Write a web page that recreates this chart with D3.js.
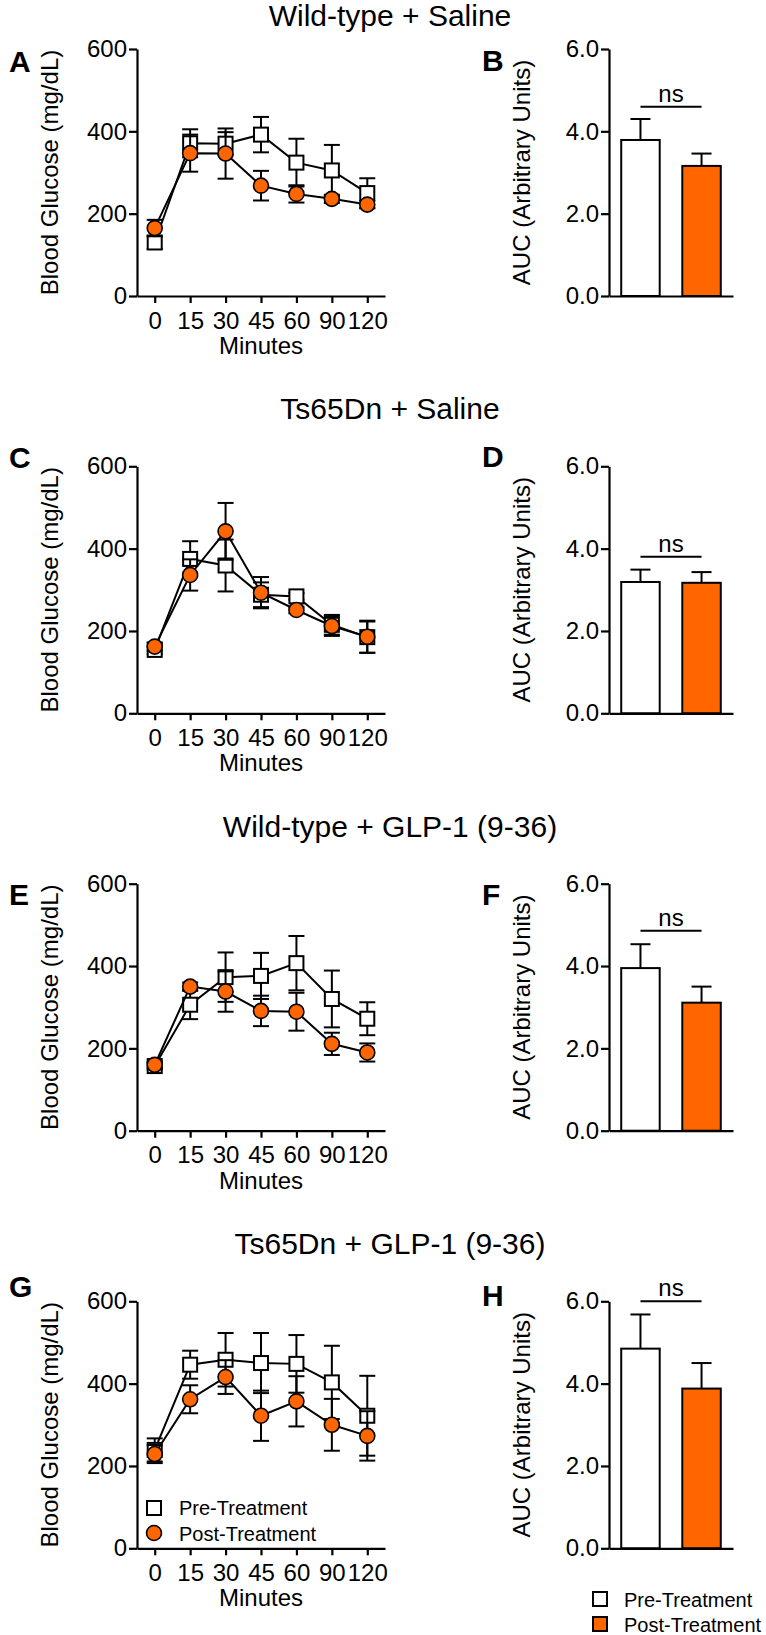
<!DOCTYPE html>
<html><head><meta charset="utf-8">
<script src="https://cdn.jsdelivr.net/npm/d3@7"></script>
<style>
body{margin:0;background:#fff;}
svg text{font-family:"Liberation Sans",Arial,Helvetica,sans-serif;fill:#000;}
</style></head><body>
<svg id="chart" width="766" height="1635"></svg>
<script>
// ---------- data ----------
const minutes = ["0","15","30","45","60","90","120"];
const panelTitles = ["Wild-type + Saline","Ts65Dn + Saline","Wild-type + GLP-1 (9-36)","Ts65Dn + GLP-1 (9-36)"];
const lineLetters = ["A","C","E","G"];
const barLetters = ["B","D","F","H"];
const seriesNames = ["Pre-Treatment","Post-Treatment"];
const glucoseTicks = [0,200,400,600];
const aucTicks = [0,2,4,6];
const yLineTitle = "Blood Glucose (mg/dL)";
const yBarTitle = "AUC (Arbitrary Units)";
const xLineTitle = "Minutes";

// A: Wild-type + Saline
const preA = [130, 371, 370, 392, 324, 305, 250];
const preAErr = [15, 34, 28, 43, 58, 62, 36];
const postA = [165, 347, 346, 268, 248, 236, 222];
const postAErr = [20, 45, 61, 36, 21, 10, 9];
// C: Ts65Dn + Saline
const preC = [154, 375, 359, 288, 284, 215, 185];
const preCErr = [10, 43, 63, 30, 8, 24, 38];
const postC = [162, 336, 442, 293, 251, 212, 186];
const postCErr = [10, 38, 69, 38, 8, 24, 39];
// E: Wild-type + GLP-1 (9-36)
const preE = [157, 306, 373, 376, 407, 320, 272];
const preEErr = [8, 35, 60, 56, 66, 69, 40];
const postE = [160, 350, 338, 291, 289, 211, 190];
const postEErr = [8, 10, 49, 37, 46, 27, 22];
// G: Ts65Dn + GLP-1 (9-36)
const preG = [239, 446, 458, 450, 448, 403, 322];
const preGErr = [28, 34, 65, 73, 70, 89, 97];
const postG = [229, 362, 416, 322, 357, 300, 273];
const postGErr = [22, 34, 41, 61, 61, 63, 60];

// AUC bars (Pre, Post)
const aucB = [3.79, 3.16], aucBErr = [0.51, 0.30], nsB = 4.6;
const aucD = [3.19, 3.17], aucDErr = [0.30, 0.26], nsD = 3.8;
const aucF = [3.95, 3.11], aucFErr = [0.58, 0.39], nsF = 4.86;
const aucH = [4.85, 3.88], aucHErr = [0.83, 0.62], nsH = 6.0;

// ---------- layout ----------
const ORANGE = "#ff6600";
const svg = d3.select("#chart");
const rowBase = [296, 713.3, 1130.7, 1548.3];
const plotH = 247;
const titleY = [26, 418.5, 836.7, 1254];
const leftLetterY = [72, 468, 905, 1297];
const rightLetterY = [71, 467, 905, 1306];

const lineSets = [
  [preA, preAErr, postA, postAErr],
  [preC, preCErr, postC, postCErr],
  [preE, preEErr, postE, postEErr],
  [preG, preGErr, postG, postGErr]
];
const barSets = [
  [aucB, aucBErr, nsB], [aucD, aucDErr, nsD], [aucF, aucFErr, nsF], [aucH, aucHErr, nsH]
];

function styleAxis(g, fs){
  g.attr("font-family", null).attr("font-size", null);
  g.selectAll("path,line").attr("stroke","#000").attr("stroke-width",2.2);
  g.selectAll("text").style("font-size", fs+"px");
}

rowBase.forEach((y0, i) => {
  // title
  svg.append("text").attr("x",390).attr("y",titleY[i]).attr("text-anchor","middle")
    .style("font-size","30px").text(panelTitles[i]);
  // letters
  svg.append("text").attr("x",9).attr("y",leftLetterY[i]).style("font-size","30px")
    .style("font-weight","bold").text(lineLetters[i]);
  svg.append("text").attr("x",482).attr("y",rightLetterY[i]).style("font-size","30px")
    .style("font-weight","bold").text(barLetters[i]);

  // ---------- line panel ----------
  const x = d3.scalePoint().domain(minutes).range([137,385]).padding(0.5);
  const y = d3.scaleLinear().domain([0,600]).range([y0, y0-plotH]);
  const gy = svg.append("g").attr("transform","translate(137,0)")
    .call(d3.axisLeft(y).tickValues(glucoseTicks).tickSize(8).tickPadding(2).tickSizeOuter(0));
  styleAxis(gy, 24);
  const gx = svg.append("g").attr("transform",`translate(0,${y0})`)
    .call(d3.axisBottom(x).tickSize(7).tickPadding(8.5).tickSizeOuter(0));
  styleAxis(gx, 24);
  svg.append("text").attr("x",261).attr("y",y0+58).attr("text-anchor","middle")
    .style("font-size","24px").text(xLineTitle);
  svg.append("text").attr("transform",`translate(58,${y0-plotH/2}) rotate(-90)`)
    .attr("text-anchor","middle").style("font-size","24px").text(yLineTitle);

  const [pre, preErr, post, postErr] = lineSets[i];
  const line = d3.line().x((d,k)=>x(minutes[k])).y(d=>y(d));
  function drawSeries(vals, errs, kind){
    const g = svg.append("g");
    const cap = 8;
    vals.forEach((v,k)=>{
      const cx = x(minutes[k]);
      const yt = y(v+errs[k]), yb = y(v-errs[k]);
      g.append("line").attr("x1",cx).attr("x2",cx).attr("y1",yt).attr("y2",yb)
        .attr("stroke","#000").attr("stroke-width",2);
      [yt,yb].forEach(yy=>g.append("line").attr("x1",cx-cap).attr("x2",cx+cap)
        .attr("y1",yy).attr("y2",yy).attr("stroke","#000").attr("stroke-width",2));
    });
    g.append("path").datum(vals).attr("d",line).attr("fill","none")
      .attr("stroke","#000").attr("stroke-width",2);
    vals.forEach((v,k)=>{
      const cx = x(minutes[k]), cy = y(v);
      if(kind==="square"){
        g.append("rect").attr("x",cx-7).attr("y",cy-7).attr("width",14).attr("height",14)
          .attr("fill","#fff").attr("stroke","#000").attr("stroke-width",2);
      } else {
        g.append("circle").attr("cx",cx).attr("cy",cy).attr("r",7.5)
          .attr("fill",ORANGE).attr("stroke","#000").attr("stroke-width",1.6);
      }
    });
  }
  drawSeries(pre, preErr, "square");
  drawSeries(post, postErr, "circle");

  // ---------- bar panel ----------
  const xb = d3.scaleBand().domain(seriesNames).range([609,733]).paddingInner(0.37).paddingOuter(0.2);
  const yb = d3.scaleLinear().domain([0,6]).range([y0, y0-plotH]);
  const gby = svg.append("g").attr("transform","translate(609,0)")
    .call(d3.axisLeft(yb).tickValues(aucTicks).tickFormat(d3.format(".1f")).tickSize(8).tickPadding(2).tickSizeOuter(0));
  styleAxis(gby, 24);
  svg.append("text").attr("transform",`translate(530,${y0-plotH/2}) rotate(-90)`)
    .attr("text-anchor","middle").style("font-size","24px").text(yBarTitle);

  const [auc, aucErr, nsVal] = barSets[i];
  const gb = svg.append("g");
  auc.forEach((v,k)=>{
    const bx = xb(seriesNames[k]), bw = xb.bandwidth(), cx = bx + bw/2;
    gb.append("line").attr("x1",cx).attr("x2",cx).attr("y1",yb(v)).attr("y2",yb(v+aucErr[k]))
      .attr("stroke","#000").attr("stroke-width",2);
    gb.append("line").attr("x1",cx-10).attr("x2",cx+10).attr("y1",yb(v+aucErr[k])).attr("y2",yb(v+aucErr[k]))
      .attr("stroke","#000").attr("stroke-width",2);
    gb.append("rect").attr("x",bx).attr("y",yb(v)).attr("width",bw).attr("height",yb(0)-yb(v))
      .attr("fill", k===0 ? "#fff" : ORANGE).attr("stroke","#000").attr("stroke-width",2);
  });
  const gbx = svg.append("g").attr("transform",`translate(0,${y0})`)
    .call(d3.axisBottom(xb).tickValues([]).tickSizeOuter(0));
  styleAxis(gbx, 24);
  const c0 = xb(seriesNames[0]) + xb.bandwidth()/2, c1 = xb(seriesNames[1]) + xb.bandwidth()/2;
  gb.append("line").attr("x1",c0).attr("x2",c1).attr("y1",yb(nsVal)).attr("y2",yb(nsVal))
    .attr("stroke","#000").attr("stroke-width",2);
  gb.append("text").attr("x",(c0+c1)/2).attr("y",yb(nsVal)-5).attr("text-anchor","middle")
    .style("font-size","24px").text("ns");
});

// legend inside panel G
const lg = svg.append("g");
lg.append("rect").attr("x",147).attr("y",1501).attr("width",14).attr("height",14)
  .attr("fill","#fff").attr("stroke","#000").attr("stroke-width",2);
lg.append("circle").attr("cx",154).attr("cy",1533).attr("r",7.5)
  .attr("fill",ORANGE).attr("stroke","#000").attr("stroke-width",1.6);
seriesNames.forEach((s,k)=>lg.append("text").attr("x",179).attr("y",1515+k*26)
  .style("font-size","20px").text(s));

// legend below panel H
const lh = svg.append("g");
seriesNames.forEach((s,k)=>{
  lh.append("rect").attr("x",593).attr("y",1592+k*25).attr("width",14).attr("height",14)
    .attr("fill", k===0 ? "#fff" : ORANGE).attr("stroke","#000").attr("stroke-width",2);
  lh.append("text").attr("x",624).attr("y",1607+k*25).style("font-size","20px").text(s);
});
</script>
</body></html>
